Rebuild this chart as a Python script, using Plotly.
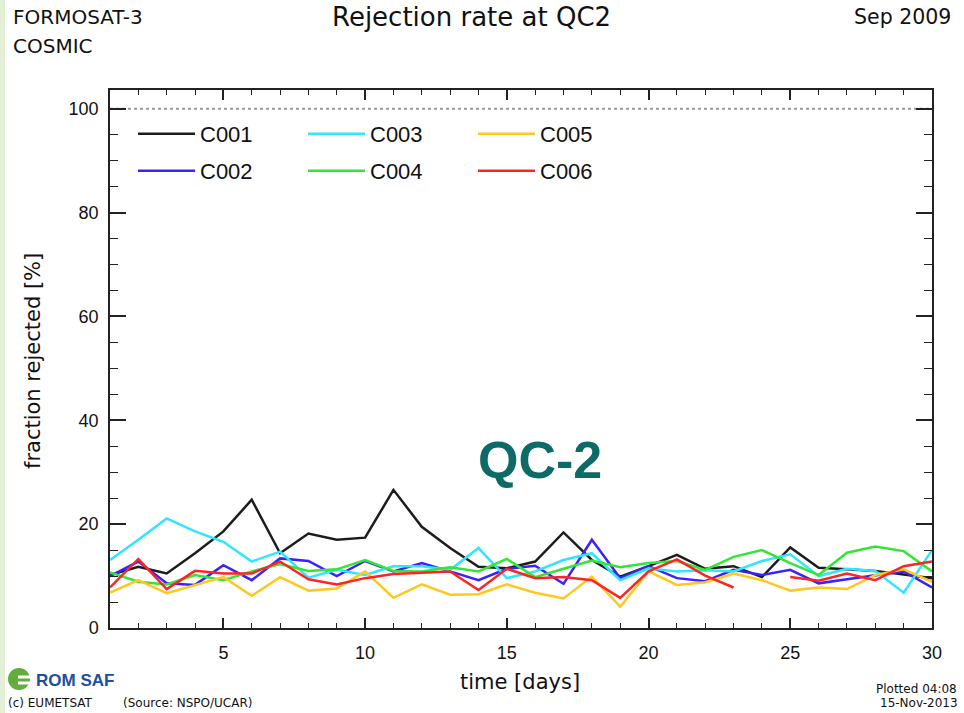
import plotly.graph_objects as go

days = list(range(1, 31))

c001 = [10.2, 11.8, 10.5, 14.4, 18.6, 24.7, 14.4, 18.2, 17.0, 17.4, 26.6, 19.5, 15.4, 11.8, 11.5,
        12.8, 18.4, 13.1, 9.9, 11.9, 14.1, 11.4, 11.9, 9.8, 15.5, 11.6, 11.3, 11.0, 10.3, 9.6]
c002 = [10.0, 12.8, 8.6, 8.3, 12.1, 9.2, 13.4, 12.9, 10.0, 12.9, 10.9, 12.5, 10.9, 9.2, 11.4,
        12.0, 8.5, 17.0, 9.6, 11.9, 9.6, 9.0, 11.2, 10.2, 11.2, 8.6, 9.4, 10.2, 10.9, 7.8]
c003 = [13.1, 17.0, 21.1, 18.6, 16.6, 12.8, 14.7, 9.7, 11.2, 10.2, 11.9, 11.9, 11.2, 15.4, 9.6,
        10.9, 13.1, 14.4, 9.2, 11.5, 10.9, 11.1, 10.9, 12.9, 14.2, 10.0, 11.4, 11.0, 6.8, 15.0]
c004 = [10.7, 8.9, 8.4, 10.2, 9.2, 10.9, 12.3, 11.0, 11.3, 13.1, 11.0, 10.9, 11.7, 10.9, 13.3,
        9.8, 11.4, 13.0, 11.7, 12.5, 12.9, 11.2, 13.7, 15.0, 12.5, 10.2, 14.5, 15.7, 14.8, 10.9]
c005 = [6.8, 9.2, 6.7, 8.3, 9.8, 6.2, 9.8, 7.2, 7.6, 10.9, 5.8, 8.4, 6.4, 6.5, 8.4,
        6.8, 5.7, 9.9, 4.1, 10.9, 8.3, 8.8, 10.5, 9.2, 7.2, 7.8, 7.5, 10.2, 11.3, 8.9]
c006 = [7.8, 13.3, 7.5, 11.0, 10.5, 10.5, 12.8, 9.4, 8.4, 9.6, 10.4, 10.7, 10.9, 7.3, 11.4,
        9.6, 9.8, 9.2, 5.8, 10.9, 13.2, 10.1, 7.8, None, 9.8, 9.1, 10.5, 9.2, 11.9, 12.8]

series_names = ["C001", "C002", "C003", "C004", "C005", "C006"]
series_values = [c001, c002, c003, c004, c005, c006]
series_colors = ["#1c1c1c", "#3a22ff", "#2ee6ff", "#33e633", "#ffc81e", "#ff2424"]
series_legend = ["legend", "legend2", "legend", "legend2", "legend", "legend2"]

x_ticks = [5, 10, 15, 20, 25, 30]
y_ticks = [0, 20, 40, 60, 80, 100]
ref_level = 100

fig = go.Figure()
for name, vals, col, lg in zip(series_names, series_values, series_colors, series_legend):
    fig.add_trace(go.Scatter(x=days, y=vals, mode="lines", name=name,
                             line=dict(color=col, width=2.5), legend=lg,
                             connectgaps=False, hoverinfo="skip"))

L, R, T, B = 110, 32, 90, 85
W, H = 964, 713
pw, ph = W - L - R, H - T - B


def px(x):
    return (x - L) / pw


def py(y):
    return (H - B - y) / ph


tick_font = dict(family="Liberation Sans", size=18, color="#111")
axis_common = dict(showline=True, mirror="ticks", linecolor="#222", linewidth=1.5,
                   ticks="inside", tickcolor="#222", tickwidth=1.5,
                   showgrid=False, zeroline=False, tickfont=tick_font)

fig.update_xaxes(range=[1, 30], tickvals=x_ticks, ticklen=10,
                 minor=dict(ticks="inside", dtick=1, tick0=0, ticklen=5, tickwidth=1.2,
                            tickcolor="#222", showgrid=False),
                 ticklabelstandoff=8, **axis_common)
fig.update_yaxes(range=[0, 103.6], tickvals=y_ticks, ticklen=16,
                 minor=dict(ticks="inside", dtick=5, tick0=0, ticklen=8, tickwidth=1.2,
                            tickcolor="#222", showgrid=False),
                 ticklabelstandoff=6, **axis_common)

leg_common = dict(orientation="h", xanchor="left", yanchor="middle",
                  entrywidth=98, entrywidthmode="pixels", itemwidth=57,
                  font=dict(family="Liberation Sans", size=22, color="#111"),
                  bgcolor="rgba(0,0,0,0)", borderwidth=0)

fig.update_layout(
    width=W, height=H,
    margin=dict(l=L, r=R, t=T, b=B, pad=0),
    paper_bgcolor="white", plot_bgcolor="white",
    showlegend=True,
    legend=dict(x=px(133), y=py(134), **leg_common),
    legend2=dict(x=px(133), y=py(171), **leg_common),
)

shapes = [
    dict(type="line", xref="paper", yref="y", x0=0, x1=1, y0=ref_level, y1=ref_level,
         line=dict(color="#999999", width=2, dash="dot"), layer="below"),
    dict(type="rect", xref="paper", yref="paper", x0=px(0), x1=px(5), y0=py(H), y1=py(0),
         fillcolor="#e3f0d5", line=dict(width=0), layer="below"),
    dict(type="circle", xref="paper", yref="paper", x0=px(8), x1=px(30), y0=py(690), y1=py(668),
         fillcolor="#62ad3e", line=dict(width=0)),
    dict(type="line", xref="paper", yref="paper", x0=px(18), x1=px(31), y0=py(677), y1=py(677),
         line=dict(color="white", width=3)),
    dict(type="line", xref="paper", yref="paper", x0=px(18), x1=px(31), y0=py(683), y1=py(683),
         line=dict(color="white", width=3)),
]
fig.update_layout(shapes=shapes)

dj = "DejaVu Sans"
ann = [
    dict(text="Rejection rate at QC2", x=px(471), y=py(17), xanchor="center", yanchor="middle",
         font=dict(family=dj, size=26, color="#111")),
    dict(text="FORMOSAT-3", x=px(11), y=py(17), xanchor="left", yanchor="middle",
         font=dict(family=dj, size=20, color="#111")),
    dict(text="COSMIC", x=px(11), y=py(46), xanchor="left", yanchor="middle",
         font=dict(family=dj, size=20, color="#111")),
    dict(text="Sep 2009", x=px(953), y=py(17), xanchor="right", yanchor="middle",
         font=dict(family=dj, size=20.5, color="#111")),
    dict(text="fraction rejected [%]", x=px(33), y=py(361), xanchor="center", yanchor="middle",
         textangle=-90, font=dict(family=dj, size=21, color="#111")),
    dict(text="time [days]", x=px(520), y=py(682), xanchor="center", yanchor="middle",
         font=dict(family=dj, size=21, color="#111")),
    dict(text="<b>QC-2</b>", x=px(540), y=py(460), xanchor="center", yanchor="middle",
         font=dict(family="Liberation Sans", size=52, color="#0d6a66")),
    dict(text="<b>ROM SAF</b>", x=px(34), y=py(680), xanchor="left", yanchor="middle",
         font=dict(family="Liberation Sans", size=17, color="#1f4e9c")),
    dict(text="(c) EUMETSAT", x=px(6), y=py(703), xanchor="left", yanchor="middle",
         font=dict(family=dj, size=12, color="#111")),
    dict(text="(Source: NSPO/UCAR)", x=px(121), y=py(703), xanchor="left", yanchor="middle",
         font=dict(family=dj, size=12, color="#111")),
    dict(text="Plotted 04:08", x=px(959), y=py(689), xanchor="right", yanchor="middle",
         font=dict(family=dj, size=12, color="#111")),
    dict(text="15-Nov-2013", x=px(960), y=py(703), xanchor="right", yanchor="middle",
         font=dict(family=dj, size=12, color="#111")),
]
for a in ann:
    a.update(xref="paper", yref="paper", showarrow=False)
fig.update_layout(annotations=ann)

fig.write_html("out.html")
